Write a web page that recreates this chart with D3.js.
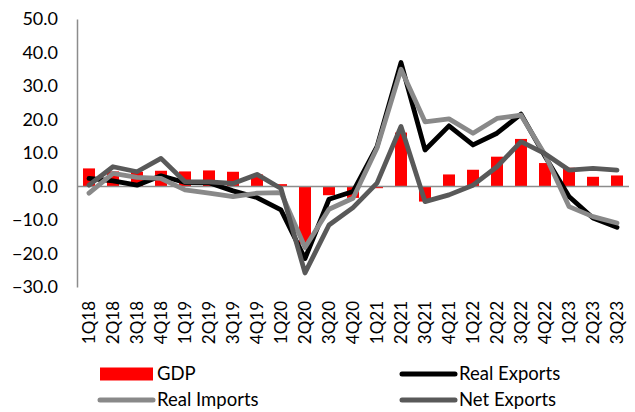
<!DOCTYPE html>
<html>
<head>
<meta charset="utf-8">
<script src="https://cdn.jsdelivr.net/npm/d3@7"></script>
<style>
  body { margin: 0; background: #fff; }
  text { font-family: Lato, "Open Sans", sans-serif; fill: #000; }
</style>
</head>
<body>
<div class="chart"></div>
<script>
var width = 635
var height = 412

const quarters = ["1Q18","2Q18","3Q18","4Q18","1Q19","2Q19","3Q19","4Q19","1Q20","2Q20","3Q20","4Q20",
                  "1Q21","2Q21","3Q21","4Q21","1Q22","2Q22","3Q22","4Q22","1Q23","2Q23","3Q23"]
const gdp         = [5.4, 4.5, 4.4, 4.7, 4.5, 4.8, 4.4, 3.6, 0.7, -17.1, -2.6, -3.4,
                     -0.5, 16.1, -4.5, 3.6, 5.0, 8.9, 14.2, 7.0, 5.6, 2.9, 3.3]
const realExports = [2.4, 1.7, 0.4, 3.2, 1.2, 1.1, -1.3, -3.3, -7.0, -21.5, -3.8, -1.5,
                     11.9, 37.0, 10.9, 18.1, 12.4, 15.9, 21.6, 9.0, -3.0, -9.4, -12.2]
const realImports = [-2.0, 3.9, 2.7, 2.4, -1.0, -2.0, -3.0, -2.0, -1.8, -18.2, -6.8, -3.5,
                     11.5, 35.0, 19.3, 20.2, 15.9, 20.3, 21.3, 9.5, -6.0, -9.0, -10.9]
const netExports  = [0.4, 5.9, 4.4, 8.4, 1.4, 1.4, 0.9, 3.6, -0.6, -25.8, -11.5, -6.3,
                     1.0, 17.9, -4.5, -2.5, 0.4, 5.9, 13.4, 9.8, 4.9, 5.4, 4.9]
const yTicks = [-30, -20, -10, 0, 10, 20, 30, 40, 50]

const lineSeries = [
  {name: "Real Exports", values: realExports, color: "#000000"},
  {name: "Real Imports", values: realImports, color: "#898989"},
  {name: "Net Exports",  values: netExports,  color: "#595959"}
]

var svg = d3.select(".chart")
  .append("svg")
  .attr("width", width)
  .attr("height", height)

var x = d3.scaleBand()
  .domain(quarters)
  .range([77, 629])
  .padding(0.5)
  .paddingOuter(0.25)

var xc = d => x(d) + x.bandwidth() / 2

var y = d3.scaleLinear()
  .domain([-30, 50])
  .range([287, 19])

// bars
svg.selectAll("rect.gdp")
  .data(quarters)
  .enter()
  .append("rect")
  .attr("class", "gdp")
  .attr("x", d => x(d))
  .attr("width", x.bandwidth())
  .attr("y", (d, i) => y(Math.max(0, gdp[i])))
  .attr("height", (d, i) => Math.abs(y(gdp[i]) - y(0)))
  .attr("fill", "#ff0000")

// zero line
svg.append("line")
  .attr("x1", 77).attr("x2", 629)
  .attr("y1", y(0)).attr("y2", y(0))
  .attr("stroke", "#8c8c8c")
  .attr("stroke-width", 1.5)

// y axis
var yAxis = svg.append("g")
  .attr("transform", "translate(77,0)")
  .call(d3.axisLeft(y).tickValues(yTicks).tickFormat(d3.format(".1f")).tickSize(0).tickPadding(19))
yAxis.select(".domain").attr("stroke", "#8c8c8c").attr("stroke-width", 1.5)
yAxis.selectAll("text").style("font-size", "18px").style("font-family", "Lato, sans-serif")

// lines
var line = d3.line()
  .x((d, i) => xc(quarters[i]))
  .y(d => y(d))

svg.selectAll("path.series")
  .data(lineSeries)
  .enter()
  .append("path")
  .attr("class", "series")
  .attr("d", d => line(d.values))
  .attr("fill", "none")
  .attr("stroke", d => d.color)
  .attr("stroke-width", 4.8)
  .attr("stroke-linejoin", "round")
  .attr("stroke-linecap", "round")

// x labels, rotated
svg.selectAll("text.xlab")
  .data(quarters)
  .enter()
  .append("text")
  .attr("class", "xlab")
  .attr("transform", d => "translate(" + (xc(d) + 6) + ",301) rotate(-90)")
  .attr("text-anchor", "end")
  .style("font-size", "17px")
  .text(d => d)

// legend
const legendItems = [
  {name: "GDP", type: "bar", color: "#ff0000", x: 100, y: 374},
  {name: "Real Exports", type: "line", color: "#000000", x: 402, y: 374},
  {name: "Real Imports", type: "line", color: "#898989", x: 100, y: 400},
  {name: "Net Exports", type: "line", color: "#595959", x: 402, y: 400}
]
var leg = svg.selectAll("g.leg")
  .data(legendItems)
  .enter()
  .append("g")
  .attr("class", "leg")
  .attr("transform", d => "translate(" + d.x + "," + d.y + ")")

leg.filter(d => d.type == "bar")
  .append("rect")
  .attr("x", 0).attr("y", -6.5)
  .attr("width", 53).attr("height", 13)
  .attr("fill", d => d.color)

leg.filter(d => d.type == "line")
  .append("line")
  .attr("x1", 0).attr("x2", 53)
  .attr("y1", 0).attr("y2", 0)
  .attr("stroke", d => d.color)
  .attr("stroke-width", 5)
  .attr("stroke-linecap", "round")

leg.append("text")
  .attr("x", 57)
  .attr("y", 0)
  .attr("dy", "0.35em")
  .style("font-size", "18.5px")
  .text(d => d.name)
</script>
</body>
</html>
